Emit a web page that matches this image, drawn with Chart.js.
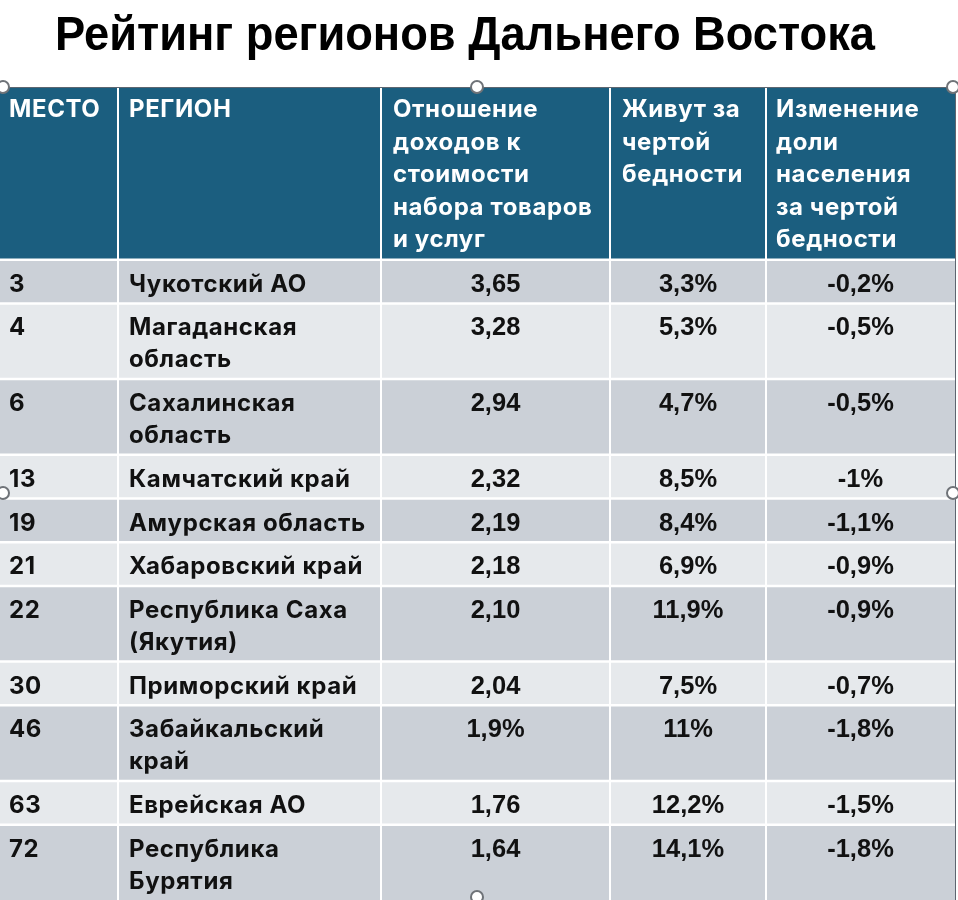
<!DOCTYPE html>
<html lang="ru">
<head>
<meta charset="utf-8">
<title>Рейтинг регионов Дальнего Востока</title>
<script src="https://cdn.jsdelivr.net/npm/chart.js@4.4.1/dist/chart.umd.min.js"></script>
<style>
  html, body { margin: 0; padding: 0; background: #fff; }
  #wrap { width: 958px; height: 900px; }
</style>
</head>
<body>
<div id="wrap"><canvas id="rating" width="958" height="900"></canvas></div>
<script>
// данные таблицы
var title = "Рейтинг регионов Дальнего Востока";
var headers = ["МЕСТО", "РЕГИОН", "Отношение\nдоходов к\nстоимости\nнабора товаров\nи услуг", "Живут за\nчертой\nбедности", "Изменение\nдоли\nнаселения\nза чертой\nбедности"];
var places = ["3", "4", "6", "13", "19", "21", "22", "30", "46", "63", "72"];
var regions = ["Чукотский АО", "Магаданская\nобласть", "Сахалинская\nобласть", "Камчатский край", "Амурская область", "Хабаровский край", "Республика Саха\n(Якутия)", "Приморский край", "Забайкальский\nкрай", "Еврейская АО", "Республика\nБурятия"];
var incomeRatio = ["3,65", "3,28", "2,94", "2,32", "2,19", "2,18", "2,10", "2,04", "1,9%", "1,76", "1,64"];
var poverty = ["3,3%", "5,3%", "4,7%", "8,5%", "8,4%", "6,9%", "11,9%", "7,5%", "11%", "12,2%", "14,1%"];
var povertyChange = ["-0,2%", "-0,5%", "-0,5%", "-1%", "-1,1%", "-0,9%", "-0,9%", "-0,7%", "-1,8%", "-1,5%", "-1,8%"];

// раскладка: границы колонок и высоты строк в единицах шкал
var colEdges = [0, 118, 381, 610, 766, 955];
var colPad = [9, 11, 12, 12, 10];
var LINE = 32, ROW_PAD = 11.7;
var HEAD_BG = "#1b5e7f", ROW_DARK = "#cbd0d7", ROW_LIGHT = "#e6e9ec";
var BODY_FONT = "bold 24px Inter, 'Noto Sans', sans-serif";
var NUM_FONT = "bold 25.5px 'Liberation Sans', Arial, sans-serif";

function nLines(s) { return s.split("\n").length; }

var rowEdges = [0];
var headH = ROW_PAD + LINE * 5;
rowEdges.push(headH);
for (var r = 0; r < places.length; r++) {
  rowEdges.push(rowEdges[rowEdges.length - 1] + ROW_PAD + LINE * nLines(regions[r]));
}

var tablePlugin = {
  id: "tablePlugin",
  afterDraw: function(chart) {
    var ctx = chart.ctx;
    var xs = chart.scales.x, ys = chart.scales.y;
    function X(v) { return xs.getPixelForValue(v); }
    function Y(v) { return ys.getPixelForValue(v); }
    ctx.save();

    // заголовок (узкий жирный шрифт имитируем сжатием)
    ctx.save();
    ctx.fillStyle = "#000";
    ctx.font = "bold 49px 'Liberation Sans', Arial, sans-serif";
    ctx.textAlign = "center";
    ctx.textBaseline = "alphabetic";
    var tw = ctx.measureText(title).width;
    var sx = 820 / tw;
    ctx.translate(465, 50);
    ctx.scale(sx, 1);
    ctx.fillText(title, 0, 0);
    ctx.restore();

    // фон шапки и строк
    ctx.fillStyle = HEAD_BG;
    ctx.fillRect(X(0), Y(0), X(955) - X(0), Y(headH) - Y(0));
    for (var i = 0; i < places.length; i++) {
      ctx.fillStyle = i % 2 == 0 ? ROW_DARK : ROW_LIGHT;
      ctx.fillRect(X(0), Y(rowEdges[i + 1]), X(955) - X(0), Y(rowEdges[i + 2]) - Y(rowEdges[i + 1]));
    }

    // белые линии сетки
    ctx.strokeStyle = "#ffffff";
    ctx.lineWidth = 2;
    for (var c = 1; c < colEdges.length - 1; c++) {
      ctx.beginPath();
      ctx.moveTo(X(colEdges[c]), Y(0));
      ctx.lineTo(X(colEdges[c]), Y(rowEdges[rowEdges.length - 1]));
      ctx.stroke();
    }
    ctx.lineWidth = 2.5;
    for (var k = 1; k < rowEdges.length - 1; k++) {
      ctx.beginPath();
      ctx.moveTo(X(0), Y(rowEdges[k]));
      ctx.lineTo(X(955), Y(rowEdges[k]));
      ctx.stroke();
    }

    // рамка выделения
    ctx.strokeStyle = "#5d6670";
    ctx.lineWidth = 1;
    ctx.beginPath();
    ctx.moveTo(X(0), Y(0) - 0.5);
    ctx.lineTo(X(955) + 0.5, Y(0) - 0.5);
    ctx.lineTo(X(955) + 0.5, 900);
    ctx.stroke();

    // текст шапки
    ctx.textAlign = "left";
    ctx.fillStyle = "#ffffff";
    ctx.font = BODY_FONT;
    ctx.letterSpacing = "0.6px";
    for (var h = 0; h < headers.length; h++) {
      var hl = headers[h].split("\n");
      for (var j = 0; j < hl.length; j++) {
        ctx.fillText(hl[j], X(colEdges[h]) + colPad[h], Y(0) + 29 + j * 32.6);
      }
    }

    // текст строк
    ctx.fillStyle = "#111111";
    for (var i2 = 0; i2 < places.length; i2++) {
      var top = Y(rowEdges[i2 + 1]);
      ctx.textAlign = "left";
      ctx.font = BODY_FONT;
      ctx.letterSpacing = "0.6px";
      ctx.fillText(places[i2], X(colEdges[0]) + colPad[0], top + 32);
      var rl = regions[i2].split("\n");
      for (var j2 = 0; j2 < rl.length; j2++) {
        ctx.fillText(rl[j2], X(colEdges[1]) + colPad[1], top + 32 + j2 * 32);
      }
      ctx.textAlign = "center";
      ctx.font = NUM_FONT;
      ctx.letterSpacing = "0px";
      var nums = [incomeRatio[i2], poverty[i2], povertyChange[i2]];
      for (var n = 0; n < 3; n++) {
        var cx = (X(colEdges[n + 2]) + X(colEdges[n + 3])) / 2;
        ctx.fillText(nums[n], cx, top + 32);
      }
    }

    // маркеры выделения
    var handles = [[3, 87], [477, 87], [953, 87], [3, 493], [953, 493], [477, 897]];
    ctx.fillStyle = "#ffffff";
    ctx.strokeStyle = "#6f7378";
    ctx.lineWidth = 2;
    handles.forEach(function(p) {
      ctx.beginPath();
      ctx.arc(p[0], p[1], 6, 0, Math.PI * 2);
      ctx.fill();
      ctx.stroke();
    });
    ctx.restore();
  }
};

var myTable = new Chart(document.getElementById("rating"), {
  type: "bar",
  data: { labels: [], datasets: [] },
  options: {
    responsive: false,
    animation: false,
    events: [],
    layout: { autoPadding: false, padding: { top: 88, right: 3, left: 0, bottom: 0 } },
    plugins: { legend: { display: false }, tooltip: { enabled: false }, title: { display: false } },
    scales: {
      x: { type: "linear", display: false, offset: false, min: 0, max: 955 },
      y: { type: "linear", display: false, offset: false, min: 0, max: 812, reverse: true }
    }
  },
  plugins: [tablePlugin]
});
</script>
</body>
</html>
